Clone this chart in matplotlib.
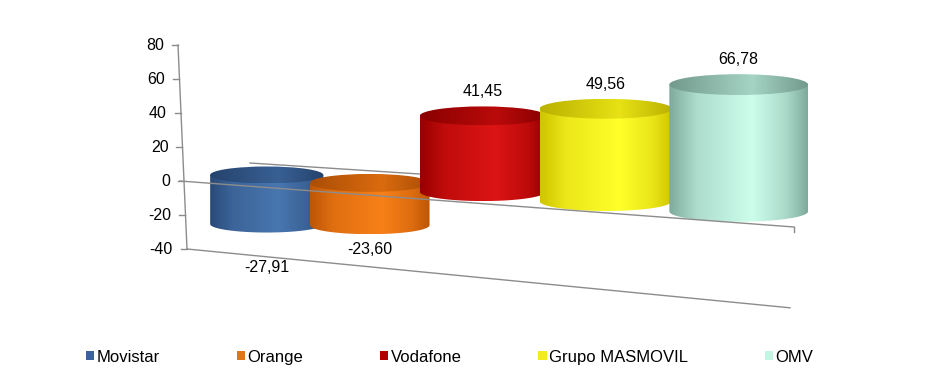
import numpy as np
import matplotlib.pyplot as plt
from matplotlib.path import Path
from matplotlib.patches import PathPatch, Ellipse, Patch
from matplotlib.colors import LinearSegmentedColormap, to_rgb

plt.rcParams['font.family'] = ['Liberation Sans', 'DejaVu Sans']

# datos
operators = ['Movistar', 'Orange', 'Vodafone', 'Grupo MASMOVIL', 'OMV']
values = [-27.91, -23.60, 41.45, 49.56, 66.78]
yticks = [-40, -20, 0, 20, 40, 60, 80]
ymin, ymax = -40, 80

# colores: borde oscuro / brillo del cilindro, color de la leyenda
edge_colors = ['#294a78', '#bd5606', '#980000', '#cfc400', '#7eaa9c']
light_colors = ['#4876af', '#f88018', '#dc1414', '#ffff2a', '#cdfeec']
legend_colors = ['#3b6598', '#e2741a', '#b00000', '#f2ec1c', '#c4f4e2']

FS = 11.5
GRID = '#8c8c8c'


# pseudo-3D: la derecha queda mas cerca del observador
def front_left(v):
    return 184 - 0.075 * v, 181 - 1.70 * v


def front_right(v):
    return 794 + 0.10 * v, 227 - 2.02 * v


def front_point(u, v):
    (x0, y0), (x1, y1) = front_left(v), front_right(v)
    t = u / len(operators)
    return x0 + (x1 - x0) * t, y0 + (y1 - y0) * t


def bar_geom(i):
    u = i + 0.5
    cx = 219 + 93 * u + 5 * u ** 2
    y_zero = 175 + 0.077 * (cx - 267)
    k = 1.74 + 0.035 * u
    rx = (110 + 6.4 * u) / 2
    ry = 0.15 * rx
    return cx, y_zero, k, rx, ry


fig = plt.figure(figsize=(9.37, 3.77), dpi=100)
ax = fig.add_axes([0, 0, 1, 1])
ax.axis('off')

# linea trasera del plano 0
ax.plot([250, 805], [163, 199], color=GRID, lw=1, zorder=1)

grad = np.linspace(0, 1, 256).reshape(1, -1)

for i, (v, ec, lc) in enumerate(zip(values, edge_colors, light_colors)):
    cx, y_zero, k, rx, ry = bar_geom(i)
    y_val = y_zero - k * v
    y_top, y_bot = min(y_zero, y_val), max(y_zero, y_val)
    e, l = np.array(to_rgb(ec)), np.array(to_rgb(lc))
    cmap = LinearSegmentedColormap.from_list(
        'c%d' % i, [(0, e), (0.2, e * 0.4 + l * 0.6), (0.6, l), (0.85, e * 0.45 + l * 0.55), (1, e)])
    cmap_top = LinearSegmentedColormap.from_list(
        't%d' % i, [(0, e * 0.9), (0.6, e * 0.5 + l * 0.5), (1, e * 0.9)])
    z = 3 + 2 * i

    t = np.linspace(0, np.pi, 80)
    verts = [(cx - rx, y_top)] + list(zip(cx - rx * np.cos(t), y_bot + ry * np.sin(t))) \
        + [(cx + rx, y_top), (cx - rx, y_top)]
    body = PathPatch(Path(verts, closed=True), fc='none', ec='none')
    ax.add_patch(body)
    im = ax.imshow(grad, extent=(cx - rx, cx + rx, y_bot + ry, y_top), cmap=cmap,
                   aspect='auto', zorder=z, interpolation='bilinear')
    im.set_clip_path(body)

    top = Ellipse((cx, y_top), 2 * rx, 2 * ry, fc='none', ec='none')
    ax.add_patch(top)
    im2 = ax.imshow(grad, extent=(cx - rx, cx + rx, y_top + ry, y_top - ry), cmap=cmap_top,
                    aspect='auto', zorder=z + 1, interpolation='bilinear')
    im2.set_clip_path(top)

    txt = ('%.2f' % v).replace('.', ',')
    if v >= 0:
        ax.text(cx, y_top - ry - 7, txt, ha='center', va='bottom', fontsize=FS, zorder=20)
    else:
        ty = y_bot + ry + 8
        line_y = front_point(i + 0.5, ymin)[1]
        if ty < line_y + 3 and ty + 13 > line_y - 2:
            ty = line_y + 5
        ax.text(cx, ty, txt, ha='center', va='top', fontsize=FS, zorder=20)

# linea frontal del plano 0 y suelo
x0, y0 = front_left(0)
x1, y1 = front_right(0)
ax.plot([x0 - 4, x1], [y0, y1], color=GRID, lw=1, zorder=15)
ax.plot([x1, x1], [y1, y1 + 5], color=GRID, lw=1, zorder=15)
xa, ya = front_left(ymin)
xb, yb = front_right(ymin)
ax.plot([xa, xb], [ya, yb], color=GRID, lw=1, zorder=2)

# eje vertical
xt, yt = front_left(ymax)
ax.plot([xt, xa], [yt, ya], color=GRID, lw=1, zorder=2)
for tv in yticks:
    x, y = front_left(tv)
    ax.plot([x - 6, x], [y, y], color=GRID, lw=1, zorder=2)
    ax.text(x - 14, y, str(tv), ha='right', va='center', fontsize=FS)

handles = [Patch(facecolor=c, edgecolor='none') for c in legend_colors]
ax.legend(handles, operators, loc='center', bbox_to_anchor=(0.480, 0.053), ncol=5,
          frameon=False, handlelength=0.5, handleheight=0.5, handletextpad=0.15,
          columnspacing=4.6, fontsize=12)

ax.set_xlim(0, 937)
ax.set_ylim(377, 0)
fig.savefig('out.png', dpi=100)
